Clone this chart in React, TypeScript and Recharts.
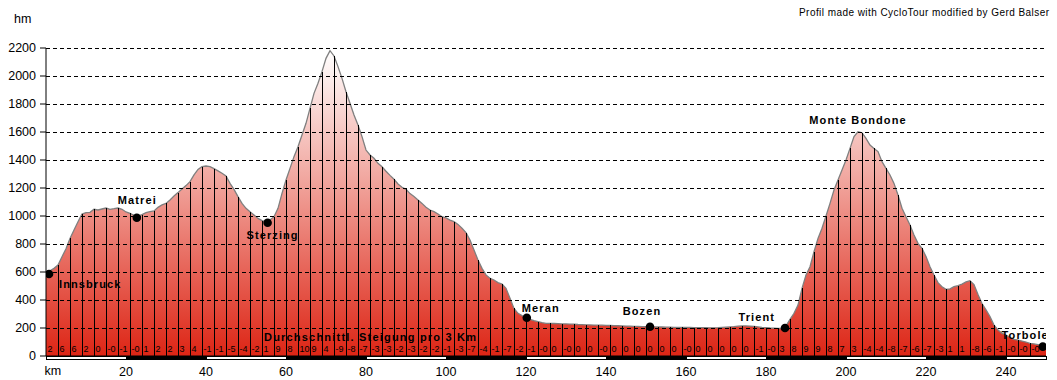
import React from 'react';
import {
  ComposedChart,
  Area,
  XAxis,
  YAxis,
  ReferenceLine,
  ReferenceArea,
  Scatter,
} from 'recharts';

// Elevation (m) at every km from 0 to 250
const elevation: number[] = [
  590, 609, 626, 650, 709, 766, 840, 900, 959, 1014,
  1024, 1026, 1048, 1043, 1050, 1057, 1048, 1052, 1057, 1048,
  1029, 1019, 1005, 1000, 1010, 1024, 1031, 1036, 1062, 1079,
  1090, 1114, 1143, 1167, 1193, 1217, 1245, 1293, 1333, 1352,
  1357, 1352, 1338, 1322, 1305, 1286, 1233, 1190, 1138, 1090,
  1055, 1031, 1007, 983, 967, 958, 971, 995, 1055, 1162,
  1257, 1340, 1424, 1495, 1579, 1662, 1769, 1876, 1948, 2031,
  2126, 2181, 2143, 2067, 1983, 1888, 1805, 1721, 1650, 1567,
  1471, 1436, 1412, 1376, 1352, 1320, 1290, 1262, 1229, 1205,
  1190, 1160, 1140, 1115, 1090, 1062, 1043, 1031, 1014, 995,
  986, 971, 960, 940, 912, 881, 829, 757, 686, 626,
  579, 555, 543, 524, 514, 483, 412, 340, 305, 288,
  275, 262, 252, 245, 238, 233, 233, 232, 231, 229,
  229, 228, 227, 225, 224, 223, 222, 221, 220, 220,
  219, 218, 217, 216, 215, 214, 213, 212, 211, 210,
  209, 208, 208, 207, 207, 206, 206, 205, 205, 205,
  204, 204, 203, 203, 202, 202, 201, 201, 202, 204,
  206, 208, 210, 213, 215, 215, 214, 212, 208, 204,
  202, 200, 199, 198, 198, 215, 262, 305, 364, 483,
  579, 638, 745, 840, 912, 1000, 1090, 1186, 1257, 1329,
  1400, 1483, 1567, 1602, 1595, 1555, 1507, 1483, 1460, 1388,
  1340, 1293, 1233, 1150, 1055, 995, 936, 864, 805, 769,
  710, 638, 579, 524, 495, 476, 479, 495, 502, 514,
  529, 538, 510, 440, 375, 329, 281, 221, 186, 162,
  150, 133, 119, 114, 107, 100, 90, 86, 81, 76,
  70,
];

// Average gradient (%) per 3 km segment
const gradientLabels: string[] = [
  '2', '6', '6', '2', '0', '-0', '-1', '-0', '1', '2', '2', '3', '4',
  '-1', '-1', '-5', '-4', '-2', '1', '9', '8', '10', '9', '4',
  '-9', '-8', '-7', '-3', '-3', '-2', '-3', '-2', '-2', '-1', '-3', '-7', '-4', '-1', '-7', '-2', '-1',
  '-0', '0', '-0', '0', '0', '-0', '0', '0', '0', '0', '0', '0', '-0', '0', '0', '0', '0', '0', '-1', '-0',
  '3', '8', '9', '9', '8', '7', '3', '-4', '-4', '-8', '-7', '-6', '-7', '-3', '1', '1', '-8', '-6', '-1', '-0', '-0', '-0',
];

const kmTicks: number[] = [20, 40, 60, 80, 100, 120, 140, 160, 180, 200, 220, 240];
const heightTicks: number[] = [0, 200, 400, 600, 800, 1000, 1200, 1400, 1600, 1800, 2000, 2200];
const gridHeights: number[] = [200, 400, 600, 800, 1000, 1200, 1400, 1600, 1800, 2000, 2200];
const scaleBarStarts: number[] = [0, 20, 40, 60, 80, 100, 120, 140, 160, 180, 200, 220, 240];

const placeNames: string[] = ['Innsbruck', 'Matrei', 'Sterzing', 'Penserjoch', 'Meran', 'Bozen', 'Trient', 'Monte Bondone', 'Torbole'];
const placeKm: number[] = [0.75, 22.7, 55.4, 71.5, 120.2, 151, 184.75, 203, 249.2];
const placeElev: number[] = [586, 988, 952, 2190, 273, 209, 200, 1602, 67];
const placeHasDot: boolean[] = [true, true, true, false, true, true, true, false, true];

// label layout (pixel offsets from the point), kept apart from the data
const placeLayout: Record<string, { dx: number; dy: number; anchor: 'start' | 'middle' | 'end' }> = {
  Innsbruck: { dx: 10, dy: 14, anchor: 'start' },
  Matrei: { dx: 0.5, dy: -14, anchor: 'middle' },
  Sterzing: { dx: 5, dy: 16, anchor: 'middle' },
  Penserjoch: { dx: 0, dy: -14.5, anchor: 'middle' },
  Meran: { dx: -5, dy: -6, anchor: 'start' },
  Bozen: { dx: -8, dy: -12, anchor: 'middle' },
  Trient: { dx: -10, dy: -7, anchor: 'end' },
  'Monte Bondone': { dx: 0, dy: -8, anchor: 'middle' },
  Torbole: { dx: 6, dy: -8, anchor: 'end' },
};

const FONT = '"Liberation Sans", Arial, Helvetica, sans-serif';
const SCALE_BAR_DEPTH = -28;

const profile = elevation.map((e, i) => ({ km: i, elev: e }));
const segments = gradientLabels.map((g, k) => ({ km: k * 3, base: 0, label: g }));
const posts = segments.filter((s) => s.km > 0).map((s) => ({ km: s.km, top: elevation[s.km] }));
const places = placeNames.map((n, i) => ({ km: placeKm[i], elev: placeElev[i], name: n, dot: placeHasDot[i] }));

const GradeLabel = (props: any) => {
  const { cx, cy, payload } = props;
  if (cx == null || cy == null) return null;
  return (
    <text x={cx + 1.5} y={cy - 4} fontSize={9} fontFamily={FONT} fill="#000">
      {payload.label}
    </text>
  );
};

const PlaceMark = (props: any) => {
  const { cx, cy, payload } = props;
  if (cx == null || cy == null) return null;
  const lay = placeLayout[payload.name];
  return (
    <g>
      {payload.dot && <circle cx={cx} cy={cy} r={4.3} fill="#000" />}
      <text
        x={cx + lay.dx}
        y={cy + lay.dy}
        textAnchor={lay.anchor}
        fontSize={11}
        fontWeight="bold"
        letterSpacing={1.1}
        fontFamily={FONT}
        fill="#000"
      >
        {payload.name}
      </text>
    </g>
  );
};

export default function App() {
  return (
    <div style={{ position: 'absolute', left: 0, top: 0, width: 1057, height: 380, background: '#fff' }}>
      <ComposedChart
        width={1057}
        height={380}
        data={profile}
        margin={{ top: 48, right: 11, bottom: 0, left: 0 }}
      >
        <defs>
          <linearGradient id="relief" x1="0" y1="0" x2="0" y2="1">
            <stop offset="0%" stopColor="#FFFFFF" />
            <stop offset="45%" stopColor="#F0A098" />
            <stop offset="100%" stopColor="#DD2515" />
          </linearGradient>
        </defs>
        <XAxis
          type="number"
          dataKey="km"
          domain={[0, 250]}
          ticks={kmTicks}
          interval={0}
          height={24}
          tickLine={false}
          tickSize={6}
          tickMargin={5}
          axisLine={{ stroke: '#000' }}
          tick={{ fill: '#000', fontSize: 12.5, fontFamily: FONT }}
          allowDataOverflow
        />
        <YAxis
          type="number"
          domain={[0, 2200]}
          ticks={heightTicks}
          interval={0}
          width={46}
          tickSize={6}
          tickMargin={4}
          axisLine={{ stroke: '#000' }}
          tickLine={{ stroke: '#000' }}
          tick={{ fill: '#000', fontSize: 12.5, fontFamily: FONT }}
          allowDataOverflow
        />
        <Area
          type="linear"
          dataKey="elev"
          stroke="#7f7f7f"
          strokeWidth={1.3}
          fill="url(#relief)"
          fillOpacity={1}
          baseValue={0}
          isAnimationActive={false}
          dot={false}
          activeDot={false}
        />
        {gridHeights.map((h) => (
          <ReferenceLine
            key={'g' + h}
            y={h}
            stroke="#000"
            strokeDasharray="4 3"
            strokeWidth={1}
            shapeRendering="crispEdges"
          />
        ))}
        {posts.map((p) => (
          <ReferenceLine
            key={'p' + p.km}
            segment={[{ x: p.km, y: 0 }, { x: p.km, y: p.top }]}
            stroke="#000"
            strokeWidth={1}
            shapeRendering="crispEdges"
          />
        ))}
        {scaleBarStarts.map((s, i) => (
          <ReferenceArea
            key={'s' + s}
            x1={s}
            x2={Math.min(s + 20, 250)}
            y1={SCALE_BAR_DEPTH}
            y2={0}
            fill={i % 2 === 0 ? '#fff' : '#000'}
            fillOpacity={1}
            stroke="#000"
            strokeWidth={1}
            shapeRendering="crispEdges"
            ifOverflow="visible"
          />
        ))}
        <Scatter data={segments} dataKey="base" shape={GradeLabel} isAnimationActive={false} />
        <Scatter data={places} dataKey="elev" shape={PlaceMark} isAnimationActive={false} />
      </ComposedChart>
      <svg
        width={1057}
        height={380}
        style={{ position: 'absolute', left: 0, top: 0, pointerEvents: 'none' }}
      >
        <text x={14} y={23} fontSize={12.5} fontFamily={FONT} fill="#000">hm</text>
        <text x={44.5} y={375} fontSize={12.5} fontFamily={FONT} fill="#000">km</text>
        <text x={799} y={16} fontSize={10} fontFamily={FONT} fill="#000" textLength={250} lengthAdjust="spacing">
          Profil made with CycloTour modified by Gerd Balser
        </text>
        <text x={264} y={341} fontSize={11} fontWeight="bold" fontFamily={FONT} fill="#000" textLength={212} lengthAdjust="spacing">
          Durchschnittl. Steigung pro 3 Km
        </text>
      </svg>
    </div>
  );
}
